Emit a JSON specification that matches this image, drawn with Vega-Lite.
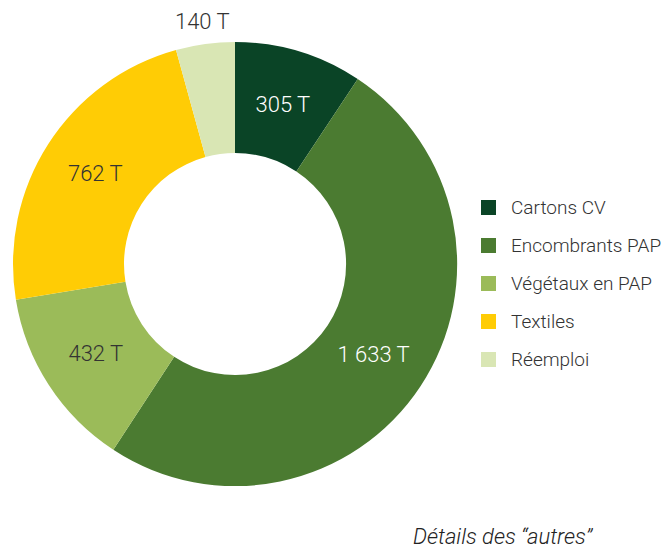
{
  "$schema": "https://vega.github.io/schema/vega-lite/v6.json",
  "width": 470,
  "height": 528,
  "padding": 0,
  "background": "white",
  "title": {
    "text": "Détails des “autres”",
    "orient": "bottom",
    "anchor": "start",
    "frame": "group",
    "dx": 413,
    "offset": -1,
    "font": "Roboto, 'Liberation Sans', sans-serif",
    "fontStyle": "italic",
    "fontWeight": 300,
    "fontSize": 22,
    "color": "#222222"
  },
  "config": {"view": {"stroke": null}},
  "data": {
    "values": [
      {"cat": "Cartons CV", "val": 305, "ord": 1, "label": "305 T"},
      {"cat": "Encombrants PAP", "val": 1633, "ord": 2, "label": "1 633 T"},
      {"cat": "Végétaux en PAP", "val": 432, "ord": 3, "label": "432 T"},
      {"cat": "Textiles", "val": 762, "ord": 4, "label": "762 T"},
      {"cat": "Réemploi", "val": 140, "ord": 5, "label": "140 T"}
    ]
  },
  "encoding": {
    "theta": {"field": "val", "type": "quantitative", "stack": true},
    "order": {"field": "ord", "type": "quantitative"}
  },
  "layer": [
    {
      "mark": {"type": "arc", "outerRadius": 222, "innerRadius": 111},
      "encoding": {
        "color": {
          "field": "cat",
          "type": "nominal",
          "sort": ["Cartons CV", "Encombrants PAP", "Végétaux en PAP", "Textiles", "Réemploi"],
          "scale": {
            "domain": ["Cartons CV", "Encombrants PAP", "Végétaux en PAP", "Textiles", "Réemploi"],
            "range": ["#0a4426", "#4b7b31", "#9bbb59", "#ffcc05", "#d9e6b4"]
          },
          "legend": {
            "orient": "none",
            "legendX": 479,
            "legendY": 198,
            "title": null,
            "symbolType": "square",
            "symbolSize": 225,
            "symbolStrokeWidth": 0,
            "labelFont": "Roboto, 'Liberation Sans', sans-serif",
            "labelFontWeight": 300,
            "labelFontSize": 19,
            "labelColor": "#333333",
            "labelOffset": 13,
            "labelLimit": 300,
            "rowPadding": 18,
            "padding": 0
          }
        }
      }
    },
    {
      "mark": {"type": "text", "radius": 166, "font": "Roboto, 'Liberation Sans', sans-serif", "fontWeight": 300, "fontSize": 22},
      "encoding": {
        "text": {"condition": {"test": "datum.cat !== 'Réemploi'", "field": "label"}, "value": ""},
        "color": {"condition": {"test": "datum.ord <= 2", "value": "#ffffff"}, "value": "#333333"}
      }
    },
    {
      "mark": {"type": "text", "radius": 244, "font": "Roboto, 'Liberation Sans', sans-serif", "fontWeight": 300, "fontSize": 22, "color": "#333333"},
      "encoding": {
        "text": {"condition": {"test": "datum.cat === 'Réemploi'", "field": "label"}, "value": ""}
      }
    }
  ]
}
